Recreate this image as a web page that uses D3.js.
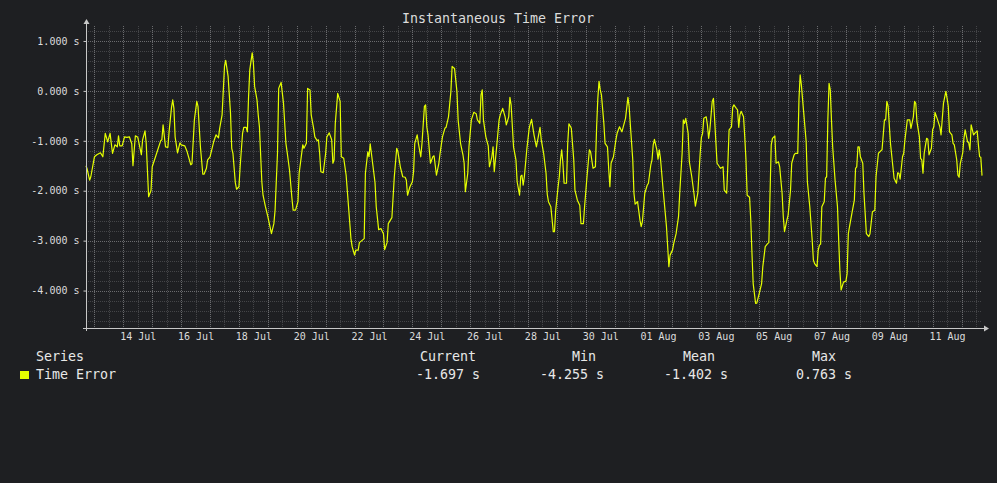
<!DOCTYPE html>
<html>
<head>
<meta charset="utf-8">
<title>Instantaneous Time Error</title>
<script src="https://d3js.org/d3.v7.min.js"></script>
<style>
  body { margin: 0; background: #1e1f22; }
  svg text { font-family: "DejaVu Sans Mono", monospace; }
</style>
</head>
<body>
<script>
// series: hours since 12 Jul 17:00 UTC, time error in seconds
var hours = [
  0, 1, 3, 4, 7, 9, 12, 14, 16, 18, 20,
  22, 24, 26, 27, 28, 30, 32, 34, 36, 38,
  39, 41, 43, 46, 47, 49, 50, 52, 54, 55,
  58, 60, 62, 63, 64, 66, 68, 69, 71, 72,
  73, 74, 76, 78, 79, 82, 84, 87, 88, 90,
  92, 93, 95, 97, 98, 100, 101, 103, 105, 106,
  108, 110, 111, 113, 115, 116, 118, 120, 121, 122,
  124, 125, 127, 128, 130, 131, 133, 134, 135, 136,
  138, 139, 140, 142, 143, 144, 146, 147, 149, 151,
  154, 156, 157, 159, 160, 162, 164, 166, 167, 169,
  171, 172, 174, 176, 177, 180, 181, 183, 184, 186,
  187, 189, 190, 192, 193, 194, 195, 197, 199, 200,
  202, 204, 205, 206, 207, 209, 211, 212, 214, 216,
  218, 220, 221, 223, 224, 226, 227, 229, 231, 232,
  234, 235, 236, 238, 240, 241, 243, 245, 247, 248,
  250, 251, 253, 254, 256, 258, 259, 261, 263, 265,
  266, 267, 269, 271, 272, 273, 275, 276, 278, 279,
  281, 282, 283, 284, 286, 288, 289, 291, 293, 294,
  296, 298, 299, 301, 303, 304, 306, 308, 309, 311,
  313, 314, 315, 317, 318, 320, 322, 324, 325, 327,
  328, 329, 330, 332, 334, 335, 337, 338, 339, 341,
  343, 344, 346, 348, 349, 351, 352, 353, 355, 357,
  358, 360, 361, 362, 363, 364, 366, 368, 369, 370,
  372, 374, 377, 378, 380, 382, 383, 384, 386, 388,
  389, 390, 392, 393, 394, 395, 396, 397, 399, 400,
  401, 403, 405, 406, 408, 410, 411, 413, 414, 416,
  418, 419, 421, 423, 424, 425, 426, 427, 428, 430,
  431, 433, 434, 435, 436, 438, 440, 441, 443, 445,
  446, 448, 450, 451, 452, 454, 455, 456, 458, 460,
  461, 462, 464, 466, 467, 469, 470, 471, 472, 474,
  475, 476, 477, 479, 481, 482, 484, 485, 487, 488,
  490, 492, 493, 495, 496, 497, 498, 500, 501, 503,
  505, 506, 508, 510, 511, 512, 513, 515, 516, 517,
  518, 520, 521, 522, 524, 526, 527, 529, 530, 532,
  533, 534, 536, 537, 538, 540, 541, 542, 543, 544,
  546, 547, 548, 549, 551, 552, 553, 554, 556, 557,
  559, 561, 562, 564, 566, 567, 568, 569, 570, 572,
  573, 575, 576, 578, 579, 580, 582, 583, 585, 586,
  588, 589, 591, 592, 593, 594, 596, 598, 599, 601,
  603, 604, 605, 607, 608, 609, 610, 611, 613, 614,
  615, 616, 617, 618, 619, 620, 622, 624, 625, 626,
  627, 629, 631, 632, 633, 634, 636, 638, 639, 640,
  641, 642, 643, 645, 646, 648, 650, 651, 653, 655,
  656, 658, 660, 661, 663, 664, 665, 666, 668, 670,
  671, 673, 674, 675, 676, 678, 679, 680, 682, 684,
  685, 687, 688, 689, 690, 692, 693, 694, 695, 696,
  698, 699, 700, 702, 703, 704, 705, 707, 709, 710,
  712, 714, 715, 716, 717, 719, 720, 721, 723, 724,
  725, 726, 728, 729, 730, 732, 733, 734, 735, 737,
  738, 740, 741, 742, 743, 744
];
var timeError = [
  -1.50, -1.57, -1.79, -1.72, -1.32, -1.28, -1.24, -1.32, -0.85, -1.02, -0.85,
  -1.25, -1.08, -1.12, -0.90, -1.10, -1.10, -0.92, -0.93, -0.92, -1.06,
  -1.50, -0.90, -0.93, -1.28, -0.98, -0.80, -1.05, -2.12, -1.99, -1.52,
  -1.30, -1.15, -1.00, -0.98, -0.68, -1.12, -1.13, -0.82, -0.33, -0.18,
  -0.35, -0.92, -1.24, -1.04, -1.08, -1.10, -1.22, -1.48, -1.46, -0.58,
  -0.21, -0.31, -1.12, -1.67, -1.67, -1.55, -1.38, -1.32, -1.12, -1.02,
  -0.88, -0.94, -0.75, -0.48, 0.49, 0.61, 0.29, -0.45, -1.15, -1.25,
  -1.84, -1.97, -1.92, -1.52, -0.85, -0.73, -0.73, -0.82, -0.11, 0.42,
  0.763, 0.56, 0.09, -0.18, -0.48, -0.72, -1.82, -2.09, -2.32, -2.52,
  -2.86, -2.66, -2.39, -1.25, 0.05, 0.17, -0.25, -1.05, -1.22, -1.59,
  -2.15, -2.39, -2.39, -2.22, -1.65, -1.08, -1.15, -1.05, 0.05, 0.02,
  -0.48, -0.75, -0.92, -1.00, -0.98, -1.25, -1.62, -1.64, -1.25, -0.92,
  -0.84, -0.98, -1.45, -1.38, -0.65, -0.05, -0.21, -1.32, -1.35, -1.69,
  -2.32, -2.96, -3.12, -3.29, -3.19, -3.19, -3.04, -3.00, -2.96, -1.65,
  -1.22, -1.32, -1.06, -1.45, -1.84, -2.32, -2.78, -2.76, -2.86, -3.18,
  -3.04, -2.66, -2.58, -2.54, -1.72, -1.15, -1.22, -1.52, -1.72, -1.73,
  -1.79, -2.09, -1.92, -1.82, -1.62, -1.05, -0.88, -1.05, -1.32, -1.05,
  -0.31, -0.28, -0.72, -0.88, -1.45, -1.32, -1.30, -1.69, -1.45, -1.25,
  -0.92, -0.75, -0.73, -0.52, -0.01, 0.49, 0.45, -0.01, -0.58, -1.05,
  -1.28, -1.45, -2.02, -1.65, -1.12, -0.58, -0.43, -0.46, -0.58, -0.65,
  -0.08, 0.02, -0.58, -0.92, -1.10, -1.52, -1.32, -1.12, -1.62, -1.12,
  -0.58, -0.48, -0.35, -0.52, -0.68, -0.52, -0.13, -0.28, -1.12, -1.38,
  -1.82, -2.09, -1.71, -1.69, -1.89, -1.72, -1.18, -0.75, -0.65, -0.57,
  -0.88, -1.12, -0.73, -0.98, -1.25, -1.65, -2.07, -2.22, -2.32, -2.82,
  -2.82, -2.39, -1.92, -1.72, -1.38, -1.18, -1.45, -1.85, -1.85, -1.05,
  -0.66, -0.75, -1.38, -1.99, -2.19, -2.29, -2.66, -2.66, -2.32, -1.72,
  -1.18, -1.22, -1.55, -1.52, -0.72, -0.15, 0.19, 0.02, -0.08, -0.65,
  -1.05, -1.12, -1.55, -1.92, -1.45, -1.32, -0.98, -0.85, -0.72, -0.82,
  -0.73, -0.55, -0.13, -0.31, -0.68, -1.38, -2.05, -2.27, -2.22, -2.59,
  -2.72, -2.62, -2.05, -1.89, -1.85, -1.48, -1.38, -1.08, -0.97, -1.18,
  -1.37, -1.18, -1.35, -1.92, -2.45, -2.72, -3.52, -3.29, -3.19, -3.06,
  -2.86, -2.52, -2.05, -1.25, -0.58, -0.65, -0.55, -0.85, -1.42, -1.72,
  -2.09, -2.31, -2.05, -1.25, -0.93, -0.85, -0.55, -0.52, -0.68, -0.95,
  -0.78, -0.21, -0.15, -0.58, -1.45, -1.52, -1.55, -1.52, -1.99, -2.05,
  -1.45, -0.78, -0.72, -0.33, -0.28, -0.35, -0.38, -0.73, -0.48, -0.41,
  -0.52, -0.92, -1.38, -2.09, -2.13, -2.59, -3.26, -3.86, -4.255, -4.25,
  -4.06, -3.86, -3.52, -3.12, -3.06, -3.04, -2.05, -1.08, -0.95, -0.90,
  -1.45, -1.42, -1.52, -2.05, -2.52, -2.82, -2.59, -2.49, -1.99, -1.45,
  -1.28, -1.25, -1.25, -0.18, 0.32, 0.12, -0.45, -1.02, -1.82, -2.32,
  -2.99, -3.39, -3.46, -3.52, -3.19, -3.09, -3.07, -2.32, -2.22, -1.75,
  -1.72, -0.58, 0.15, 0.02, -0.58, -1.12, -1.79, -2.32, -2.99, -3.60,
  -3.99, -3.83, -3.81, -3.66, -2.86, -2.72, -2.45, -2.19, -1.55, -1.52,
  -1.12, -1.12, -1.32, -1.45, -2.05, -2.86, -2.92, -2.86, -2.42, -2.39,
  -1.72, -1.25, -1.20, -1.18, -0.58, -0.58, -0.21, -0.30, -1.05, -1.52,
  -1.75, -1.85, -1.64, -1.65, -1.77, -1.32, -1.25, -0.98, -0.58, -0.58,
  -0.75, -0.52, -0.21, -0.25, -0.62, -0.92, -1.35, -1.38, -1.65, -1.25,
  -0.95, -0.97, -1.28, -1.15, -0.78, -0.72, -0.43, -0.57, -0.72, -0.88,
  -0.25, -0.01, -0.15, -0.31, -0.82, -0.88, -1.05, -1.08, -1.38, -1.69,
  -1.73, -1.45, -1.24, -0.95, -0.78, -1.02, -1.04, -1.18, -0.68, -0.88,
  -0.85, -0.80, -1.08, -1.32, -1.33, -1.697
];

var yTicks = [1, 0, -1, -2, -3, -4];
var xLabelDays = ["2024-07-14", "2024-07-16", "2024-07-18", "2024-07-20", "2024-07-22",
  "2024-07-24", "2024-07-26", "2024-07-28", "2024-07-30", "2024-08-01", "2024-08-03",
  "2024-08-05", "2024-08-07", "2024-08-09", "2024-08-11"];
var legendHeads = ["Current", "Min", "Mean", "Max"];
var legendStats = [-1.697, -4.255, -1.402, 0.763];

var width = 997, height = 483;
var pLeft = 86, pRight = 982, pTop = 26, pBottom = 328;
var bg = "#1e1f22", lineColor = "#e5ff00", axisColor = "#c8c8c8", textColor = "#dcdcdc";

var start = Date.UTC(2024, 6, 12, 17);
var end = start + 744 * 3600e3;
var data = hours.map(function(h, i) { return { t: new Date(start + h * 3600e3), v: timeError[i] }; });

var fmt = d3.formatLocale({ decimal: ".", thousands: ",", grouping: [3], currency: ["", ""], minus: "-" }).format(".3f");

var svg = d3.select("body").append("svg").attr("width", width).attr("height", height)
  .style("background", bg);

var x = d3.scaleUtc().domain([new Date(start), new Date(end)]).range([pLeft, pRight]);
var y = d3.scaleLinear().domain([-4.75, 1.3]).range([pBottom, pTop]);

// grid
var grid = svg.append("g").attr("shape-rendering", "crispEdges").attr("stroke-dasharray", "1,1");
var minorX = d3.utcHour.every(12).range(new Date(start), new Date(end));
var majorX = d3.utcDay.range(new Date(start), new Date(end));
var minorY = d3.ticks(-4.75, 1.3, 30);

grid.selectAll(".vmin").data(minorX).enter().append("line")
  .attr("x1", function(d) { return Math.round(x(d)) + 0.5; })
  .attr("x2", function(d) { return Math.round(x(d)) + 0.5; })
  .attr("y1", pTop).attr("y2", pBottom).attr("stroke", "#444548");
grid.selectAll(".hmin").data(minorY).enter().append("line")
  .attr("x1", pLeft).attr("x2", pRight)
  .attr("y1", function(d) { return Math.round(y(d)) + 0.5; })
  .attr("y2", function(d) { return Math.round(y(d)) + 0.5; })
  .attr("stroke", "#444548");
grid.selectAll(".vmaj").data(majorX).enter().append("line")
  .attr("x1", function(d) { return Math.round(x(d)) + 0.5; })
  .attr("x2", function(d) { return Math.round(x(d)) + 0.5; })
  .attr("y1", pTop).attr("y2", pBottom).attr("stroke", "#6a6b6e");
grid.selectAll(".hmaj").data(yTicks).enter().append("line")
  .attr("x1", pLeft).attr("x2", pRight)
  .attr("y1", function(d) { return Math.round(y(d)) + 0.5; })
  .attr("y2", function(d) { return Math.round(y(d)) + 0.5; })
  .attr("stroke", "#6a6b6e");

// series
var line = d3.line().x(function(d) { return x(d.t); }).y(function(d) { return y(d.v); });
svg.append("path").datum(data).attr("d", line)
  .attr("fill", "none").attr("stroke", lineColor).attr("stroke-width", 1.2)
  .attr("stroke-linejoin", "round");

// axes
var yAxis = d3.axisLeft(y).tickValues(yTicks).tickSize(3).tickPadding(4)
  .tickFormat(function(d) { return fmt(d) + " s"; });
var gy = svg.append("g").attr("transform", "translate(" + (pLeft + 0.5) + ",0)").call(yAxis);
gy.select(".domain").remove();
gy.selectAll("line").attr("stroke", axisColor);
gy.selectAll("text").attr("fill", textColor).attr("font-size", 10)
  .attr("font-family", "DejaVu Sans Mono, monospace");

var labelTimes = xLabelDays.map(function(s) { return new Date(Date.parse(s + "T12:00:00Z")); });
var xAxis = d3.axisBottom(x).tickValues(labelTimes).tickSize(0).tickPadding(5)
  .tickFormat(d3.utcFormat("%d %b"));
var gx = svg.append("g").attr("transform", "translate(0," + pBottom + ")").call(xAxis);
gx.select(".domain").remove();
gx.selectAll("text").attr("fill", textColor).attr("font-size", 10)
  .attr("font-family", "DejaVu Sans Mono, monospace");

svg.append("line").attr("x1", pLeft - 3).attr("x2", pRight + 3)
  .attr("y1", pBottom + 0.5).attr("y2", pBottom + 0.5)
  .attr("stroke", axisColor).attr("shape-rendering", "crispEdges");
svg.append("line").attr("x1", pLeft + 0.5).attr("x2", pLeft + 0.5)
  .attr("y1", pBottom + 3).attr("y2", pTop - 3)
  .attr("stroke", axisColor).attr("shape-rendering", "crispEdges");
svg.append("path").attr("d", "M" + (pRight + 2) + "," + (pBottom - 2.5) + "L" + (pRight + 7) + "," + (pBottom + 0.5) + "L" + (pRight + 2) + "," + (pBottom + 3.5) + "Z")
  .attr("fill", axisColor);
svg.append("path").attr("d", "M" + (pLeft - 2.5) + "," + (pTop - 2) + "L" + (pLeft + 0.5) + "," + (pTop - 7) + "L" + (pLeft + 3.5) + "," + (pTop - 2) + "Z")
  .attr("fill", axisColor);

// title
svg.append("text").attr("x", 498).attr("y", 23).attr("text-anchor", "middle")
  .attr("fill", textColor).attr("font-size", 13.3).text("Instantaneous Time Error");

// legend
var headX = [420, 572, 683, 812];
var valX = [416, 540, 664, 796];
svg.append("text").attr("x", 36).attr("y", 361).attr("fill", "#e8e8e8").attr("font-size", 13.3).text("Series");
svg.append("rect").attr("x", 20).attr("y", 371).attr("width", 9).attr("height", 8).attr("fill", lineColor);
svg.append("text").attr("x", 36).attr("y", 379).attr("fill", "#e8e8e8").attr("font-size", 13.3).text("Time Error");
svg.selectAll(".lh").data(legendHeads).enter().append("text")
  .attr("x", function(d, i) { return headX[i]; }).attr("y", 361)
  .attr("fill", "#e8e8e8").attr("font-size", 13.3).text(function(d) { return d; });
svg.selectAll(".lv").data(legendStats).enter().append("text")
  .attr("x", function(d, i) { return valX[i]; }).attr("y", 379)
  .attr("fill", "#e8e8e8").attr("font-size", 13.3).text(function(d) { return fmt(d) + " s"; });
</script>
</body>
</html>
